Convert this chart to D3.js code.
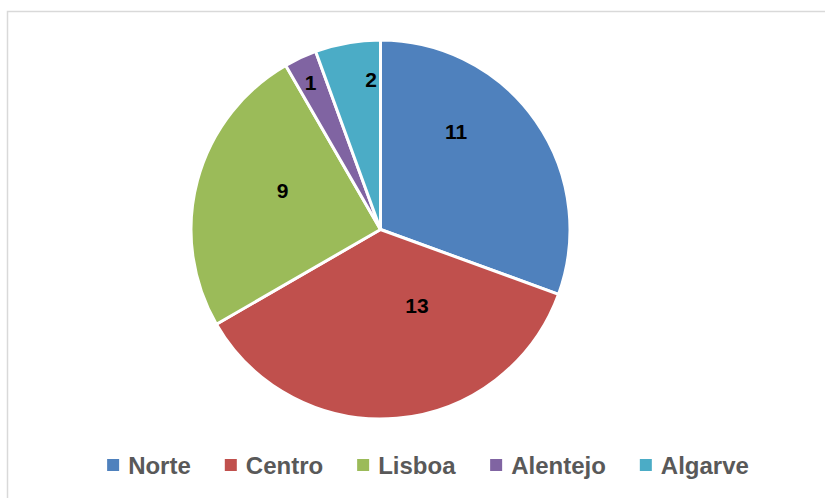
<!DOCTYPE html>
<html lang="pt">
<head>
    <meta charset="utf-8"/>
    <title>Regiões</title>
    <style>
        body { margin: 0; background: #fff; }
        .label { font: bold 21px "Liberation Sans", Arial, sans-serif; fill: #000; }
        .legend text { font: bold 24px "Liberation Sans", Arial, sans-serif; fill: #595959; }
    </style>
</head>
<body>
<div id="graph"></div>
<script src="https://d3js.org/d3.v7.min.js"></script>
<script>
    var regions = ["Norte", "Centro", "Lisboa", "Alentejo", "Algarve"];
    var counts = [11, 13, 9, 1, 2];
    var colors = ["#4F81BD", "#C0504D", "#9BBB59", "#8064A2", "#4BACC6"];
    // where Excel put each data label: angle from 12 o'clock (deg) and fraction of radius
    var labelAngle = [37.7, 154.2, 291.5, 334.5, 356.4];
    var labelRadius = [0.652, 0.443, 0.556, 0.857, 0.796];

    var width = 825, height = 498;
    var cx = 380.5, cy = 229.5, r = 189.5;

    var svg = d3.select("#graph")
        .append("svg")
        .attr("width", width)
        .attr("height", height);

    // chart area border
    svg.append("rect")
        .attr("x", 7.5)
        .attr("y", 11.5)
        .attr("width", width)
        .attr("height", height)
        .attr("fill", "none")
        .attr("stroke", "#d9d9d9")
        .attr("stroke-width", 1.5);

    var pie = d3.pie().sort(null).value(function (d) { return d; });
    var arc = d3.arc().innerRadius(0).outerRadius(r);

    var g = svg.append("g")
        .attr("transform", "translate(" + cx + "," + cy + ")");

    g.selectAll(".slice")
        .data(pie(counts))
        .enter()
        .append("path")
        .attr("class", "slice")
        .attr("d", arc)
        .attr("fill", function (d, i) { return colors[i]; })
        .attr("stroke", "#fff")
        .attr("stroke-width", 3)
        .attr("stroke-linejoin", "round");

    g.selectAll(".label")
        .data(counts)
        .enter()
        .append("text")
        .attr("class", "label")
        .attr("text-anchor", "middle")
        .attr("dy", "0.36em")
        .attr("x", function (d, i) { return Math.sin(labelAngle[i] * Math.PI / 180) * labelRadius[i] * r; })
        .attr("y", function (d, i) { return -Math.cos(labelAngle[i] * Math.PI / 180) * labelRadius[i] * r; })
        .text(function (d) { return d; });

    // legend, laid out left to right then centred
    var gap = 34;
    var legend = svg.append("g").attr("class", "legend");
    var items = legend.selectAll(".item")
        .data(regions)
        .enter()
        .append("g")
        .attr("class", "item");

    items.append("rect")
        .attr("width", 12)
        .attr("height", 12)
        .attr("y", -6)
        .attr("fill", function (d, i) { return colors[i]; });

    items.append("text")
        .attr("x", 21)
        .attr("dy", "0.36em")
        .text(function (d) { return d; });

    var x = 0;
    items.each(function () {
        var w = this.getBBox().width;
        d3.select(this).attr("transform", "translate(" + x + ",0)");
        x += w + gap;
    });
    var total = x - gap;
    legend.attr("transform", "translate(" + (428 - total / 2) + ",465)");
</script>
</body>
</html>
